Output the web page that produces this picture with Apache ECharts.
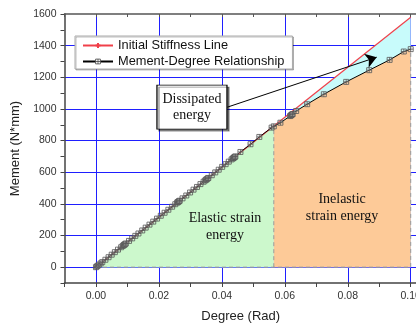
<!DOCTYPE html>
<html><head><meta charset="utf-8">
<script src="https://cdn.jsdelivr.net/npm/echarts@6/dist/echarts.min.js"></script>
<style>html,body{margin:0;padding:0;background:#fff}#c{width:416px;height:325px}</style>
</head><body><div id="c"></div>
<script>
// Moment-degree relationship
const degree = [0, 0.0003, 0.0006, 0.001, 0.0015, 0.002, 0.003, 0.004, 0.005, 0.006, 0.007, 0.008,
  0.0085, 0.0088, 0.009, 0.0092, 0.0095, 0.0105, 0.0115, 0.0125, 0.0135, 0.0147, 0.0158, 0.017,
  0.0182, 0.0194, 0.0206, 0.0218, 0.023, 0.0242, 0.0252, 0.0258, 0.026, 0.0262, 0.0264, 0.0266,
  0.0275, 0.0287, 0.0299, 0.031, 0.0321, 0.0332, 0.0342, 0.0347, 0.035, 0.0352, 0.0355, 0.0357,
  0.0368, 0.0379, 0.039, 0.0401, 0.0412, 0.0422, 0.0431, 0.0435, 0.0437, 0.0439, 0.0441, 0.0443,
  0.0459, 0.0491, 0.0519, 0.0558, 0.0565, 0.0586, 0.0617, 0.0619, 0.0621, 0.0623, 0.0625, 0.0636,
  0.0671, 0.0724, 0.0795, 0.0868, 0.0933, 0.0978, 0.1];
const moment = [0, 5, 10, 16, 24, 32, 47, 63, 79, 95, 111, 126,
  134, 139, 142, 145, 150, 166, 182, 198, 213, 232, 250, 269,
  288, 307, 325, 344, 363, 382, 398, 408, 411, 414, 417, 420,
  435, 453, 472, 490, 507, 525, 540, 548, 553, 556, 561, 564,
  581, 599, 616, 634, 651, 667, 681, 687, 690, 694, 697, 700,
  728, 777, 823, 882, 890, 913, 955, 959, 962, 965, 968, 987,
  1030, 1093, 1171, 1245, 1310, 1363, 1378];
// Initial stiffness line
const stiffDegree = [0, 0.1];
const stiffMoment = [0, 1580];
// Boundary between elastic and inelastic strain energy
const elasticLimit = 0.0565;
// Axis ticks / labels
const xTicks = [0, 0.02, 0.04, 0.06, 0.08, 0.10];
const yTicks = [0, 200, 400, 600, 800, 1000, 1200, 1400, 1600];

const curve = degree.map((d, i) => [d, moment[i]]);
const stiff = stiffDegree.map((d, i) => [d, stiffMoment[i]]);
const elastic = curve.filter(p => p[0] <= elasticLimit + 1e-9);
const inelastic = curve.filter(p => p[0] >= elasticLimit - 1e-9);
const splitPt = elastic[elastic.length - 1];
const lastPt = curve[curve.length - 1];

const FONT = '"Liberation Sans", Arial, sans-serif';
const SERIF = '"Liberation Serif", "Times New Roman", serif';
const onTick = (v, ticks) => ticks.some(t => Math.abs(t - v) < 1e-7);

const chart = echarts.init(document.getElementById('c'), null, {renderer: 'canvas'});
chart.setOption({
  animation: false,
  backgroundColor: '#fff',
  grid: {left: 64.5, top: 14, right: -1, bottom: 42, containLabel: false, outerBoundsMode: 'none'},
  legend: {
    orient: 'vertical', left: 75, top: 36, z: 20,
    data: [
      {name: 'Initial Stiffness Line'},
      {name: 'Mement-Degree Relationship', itemStyle: {color: '#fff', borderColor: '#444', borderWidth: 0.8}}
    ],
    itemWidth: 30, itemHeight: 6, itemGap: 3,
    padding: [3, 8, 1, 7],
    backgroundColor: '#fff', borderColor: '#aaa', borderWidth: 1,
    shadowColor: 'rgba(0,0,0,0.25)', shadowOffsetX: 1, shadowOffsetY: 1,
    textStyle: {fontFamily: FONT, fontSize: 12.8, color: '#111'}
  },
  xAxis: [{
    type: 'value', min: -0.01, max: 0.102, interval: 0.01,
    name: 'Degree (Rad)', nameLocation: 'middle', nameGap: 27,
    nameTextStyle: {fontFamily: FONT, fontSize: 13, color: '#222'},
    axisLine: {show: true, onZero: false, lineStyle: {color: '#444', width: 1.5}},
    axisTick: {show: true, inside: false, length: 4, lineStyle: {color: '#444'}},
    axisLabel: {margin: 8, fontFamily: FONT, fontSize: 10.5, color: '#333',
      formatter: v => onTick(v, xTicks) ? v.toFixed(2) : ''},
    splitLine: {show: false}
  }, {
    type: 'value', position: 'top', min: -0.01, max: 0.102, interval: 0.01,
    axisLine: {show: true, onZero: false, lineStyle: {color: '#555', width: 1.5}},
    axisTick: {show: true, inside: true, length: 3, lineStyle: {color: '#555'}},
    axisLabel: {show: false}, splitLine: {show: false}
  }],
  yAxis: [{
    type: 'value', min: -100, max: 1600, interval: 100,
    name: 'Mement (N*mm)', nameLocation: 'middle', nameGap: 38, nameRotate: 90,
    nameTextStyle: {fontFamily: FONT, fontSize: 13, color: '#222'},
    axisLine: {show: true, onZero: false, lineStyle: {color: '#444', width: 1.5}},
    axisTick: {show: true, inside: false, length: 4, lineStyle: {color: '#444'}},
    axisLabel: {margin: 8, fontFamily: FONT, fontSize: 10.5, color: '#333',
      formatter: v => onTick(v, yTicks) ? String(v) : ''},
    splitLine: {show: false}
  }],
  series: [
    { // blue grid lines at the labelled ticks
      type: 'line', data: [], z: 0, silent: true,
      markLine: {
        z: 0, silent: true, symbol: 'none', label: {show: false}, animation: false,
        lineStyle: {color: '#1f1fff', width: 1, type: 'solid'},
        emphasis: {disabled: true},
        data: xTicks.map(v => ({xAxis: v})).concat(yTicks.filter(v => v < 1600).map(v => ({yAxis: v})))
      }
    },
    { // dissipated energy (under the stiffness line)
      type: 'line', data: stiff, z: 1, silent: true, showSymbol: false, symbol: 'none',
      lineStyle: {width: 0}, areaStyle: {color: '#c8fbfb', opacity: 1}
    },
    { // elastic strain energy
      type: 'line', data: elastic, z: 2, silent: true, showSymbol: false, symbol: 'none',
      lineStyle: {width: 0}, areaStyle: {color: '#ccf8cc', opacity: 1}
    },
    { // inelastic strain energy
      type: 'line', data: inelastic, z: 2, silent: true, showSymbol: false, symbol: 'none',
      lineStyle: {width: 0}, areaStyle: {color: '#fdca98', opacity: 1}
    },
    { // dashed borders of the regions
      type: 'line', data: [[0, 0], [lastPt[0], 0], lastPt], z: 3, silent: true,
      showSymbol: false, symbol: 'none',
      lineStyle: {color: '#9a9a9a', width: 1, type: [4, 3]}
    },
    {
      type: 'line', data: [[splitPt[0], 0], splitPt], z: 3, silent: true,
      showSymbol: false, symbol: 'none',
      lineStyle: {color: '#9a9a9a', width: 1, type: [4, 3]}
    },
    {
      name: 'Initial Stiffness Line', type: 'line', data: stiff, z: 4,
      showSymbol: false, symbol: 'path://M5,0V10M3,5H7', symbolSize: 6,
      itemStyle: {color: '#f0404a', borderColor: '#f0404a', borderWidth: 1},
      lineStyle: {color: '#f0404a', width: 1.2}
    },
    {
      name: 'Mement-Degree Relationship', type: 'line', data: curve, z: 5,
      symbol: 'path://M0,0H10V10H0ZM5,0V10M0,5H10', symbolSize: 5, showAllSymbol: true,
      itemStyle: {color: 'rgba(255,255,255,0.2)', borderColor: '#555', borderWidth: 0.8},
      lineStyle: {color: '#000', width: 1},
      markLine: {
        z: 6, silent: true, symbol: ['none', 'arrow'], symbolSize: 11,
        label: {show: false}, animation: false,
        lineStyle: {color: '#000', width: 1, type: 'solid'},
        data: [[{coord: [0.0417, 1011]}, {coord: [0.0892, 1327]}]]
      },
      markPoint: {
        z: 6, silent: true, animation: false,
        data: [
          {coord: [0.0305, 1012], symbol: 'rect', symbolSize: [70, 44],
            itemStyle: {color: '#fff', borderColor: '#000', borderWidth: 1,
              shadowColor: 'rgba(0,0,0,0.45)', shadowOffsetX: 2, shadowOffsetY: 2, shadowBlur: 0},
            label: {show: true, position: 'inside', formatter: 'Dissipated\nenergy',
              fontFamily: SERIF, fontSize: 14, lineHeight: 16, color: '#111'}},
          {coord: [0.041, 258], symbol: 'rect', symbolSize: 1, itemStyle: {color: 'rgba(0,0,0,0)'},
            label: {show: true, position: 'inside', formatter: 'Elastic strain\nenergy',
              fontFamily: SERIF, fontSize: 14, lineHeight: 17, color: '#111'}},
          {coord: [0.0782, 373], symbol: 'rect', symbolSize: 1, itemStyle: {color: 'rgba(0,0,0,0)'},
            label: {show: true, position: 'inside', formatter: 'Inelastic\nstrain energy',
              fontFamily: SERIF, fontSize: 14, lineHeight: 17, color: '#111'}}
        ]
      }
    }
  ]
});
</script>
</body></html>
